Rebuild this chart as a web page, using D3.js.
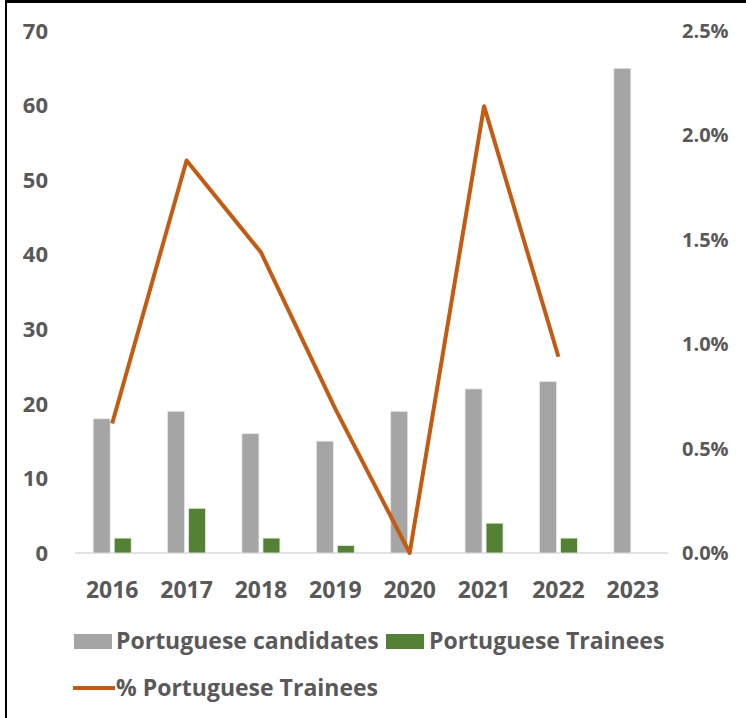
<!DOCTYPE html>
<html>
<head>
<meta charset="utf-8">
<script src="https://cdn.jsdelivr.net/npm/d3@7"></script>
<style>
  body { margin: 0; background: #fff; }
  svg text { font-family: "Open Sans", sans-serif; font-weight: bold; fill: #595959; }
</style>
</head>
<body>
<div id="chart"></div>
<script>
// chart data
var years = ['2016', '2017', '2018', '2019', '2020', '2021', '2022', '2023'];
var candidates = [18, 19, 16, 15, 19, 22, 23, 65];
var trainees = [2, 6, 2, 1, 0, 4, 2, null];
var pctTrainees = [0.0062, 0.0188, 0.0144, 0.0069, 0, 0.0214, 0.0094];
var leftTicks = [0, 10, 20, 30, 40, 50, 60, 70];
var rightTicks = [0, 0.005, 0.01, 0.015, 0.02, 0.025];

var width = 746;
var height = 718;
var colors = { candidates: '#a5a5a5', trainees: '#548235', pct: '#c55a11' };

var svg = d3.select('#chart').append('svg')
  .attr('width', width)
  .attr('height', height);

// frame (top + left edge of the screenshot)
svg.append('line').attr('x1', 5).attr('x2', width).attr('y1', 1.5).attr('y2', 1.5)
  .attr('stroke', '#000').attr('stroke-width', 3);
svg.append('line').attr('x1', 6).attr('x2', 6).attr('y1', 0).attr('y2', height)
  .attr('stroke', '#000').attr('stroke-width', 2);

var x = d3.scaleBand().domain(years).range([75, 670]);
var yLeft = d3.scaleLinear().domain([0, 70]).range([553, 31]);
var yRight = d3.scaleLinear().domain([0, 0.025]).range([553, 31]);

var barW = 17;
var barOffset = 10.5;

// baseline
svg.append('line')
  .attr('x1', x.range()[0]).attr('x2', x.range()[1] - 2)
  .attr('y1', yLeft(0)).attr('y2', yLeft(0))
  .attr('stroke', '#d9d9d9').attr('stroke-width', 1.5);

// left axis labels
svg.append('g').selectAll('text')
  .data(leftTicks)
  .enter().append('text')
  .attr('x', 48)
  .attr('y', function (d) { return yLeft(d); })
  .attr('dy', '0.35em')
  .attr('text-anchor', 'end')
  .style('font-size', '22px')
  .text(function (d) { return d; });

// right axis labels
var pctFmt = d3.format('.1%');
svg.append('g').selectAll('text')
  .data(rightTicks)
  .enter().append('text')
  .attr('x', 682)
  .attr('y', function (d) { return yRight(d); })
  .attr('dy', '0.35em')
  .attr('text-anchor', 'start')
  .style('font-size', '20px')
  .text(function (d) { return pctFmt(d); });

// candidate bars
svg.append('g').selectAll('rect')
  .data(years)
  .enter().append('rect')
  .attr('x', function (d) { return x(d) + x.bandwidth() / 2 - barOffset - barW / 2; })
  .attr('y', function (d, i) { return yLeft(candidates[i]); })
  .attr('width', barW)
  .attr('height', function (d, i) { return yLeft(0) - yLeft(candidates[i]); })
  .attr('fill', colors.candidates)
  .attr('stroke', '#e8e8e8').attr('stroke-width', 0.8);

// trainee bars
svg.append('g').selectAll('rect')
  .data(years.filter(function (d, i) { return trainees[i] !== null; }))
  .enter().append('rect')
  .attr('x', function (d) { return x(d) + x.bandwidth() / 2 + barOffset - barW / 2; })
  .attr('y', function (d, i) { return yLeft(trainees[i]); })
  .attr('width', barW)
  .attr('height', function (d, i) { return yLeft(0) - yLeft(trainees[i]); })
  .attr('fill', colors.trainees)
  .attr('stroke', '#e8f0e0').attr('stroke-width', 0.8);

// % line
var line = d3.line()
  .x(function (d, i) { return x(years[i]) + x.bandwidth() / 2; })
  .y(function (d) { return yRight(d); });

svg.append('path')
  .datum(pctTrainees)
  .attr('d', line)
  .attr('fill', 'none')
  .attr('stroke', colors.pct)
  .attr('stroke-width', 4)
  .attr('stroke-linejoin', 'round');

// x labels
svg.append('g').selectAll('text')
  .data(years)
  .enter().append('text')
  .attr('x', function (d) { return x(d) + x.bandwidth() / 2; })
  .attr('y', 590)
  .attr('dy', '0.35em')
  .attr('text-anchor', 'middle')
  .style('font-size', '23px')
  .text(function (d) { return d; });

// legend
var legend = svg.append('g');
legend.append('rect').attr('x', 74).attr('y', 634).attr('width', 38).attr('height', 15)
  .attr('fill', colors.candidates);
legend.append('text').attr('x', 116).attr('y', 641).attr('dy', '0.35em')
  .style('font-size', '23px').text('Portuguese candidates');
legend.append('rect').attr('x', 386).attr('y', 634).attr('width', 38).attr('height', 15)
  .attr('fill', colors.trainees);
legend.append('text').attr('x', 429).attr('y', 641).attr('dy', '0.35em')
  .style('font-size', '23px').text('Portuguese Trainees');
legend.append('line').attr('x1', 73).attr('x2', 115).attr('y1', 688).attr('y2', 688)
  .attr('stroke', colors.pct).attr('stroke-width', 4);
legend.append('text').attr('x', 116).attr('y', 688).attr('dy', '0.35em')
  .style('font-size', '23px').text('% Portuguese Trainees');
</script>
</body>
</html>
